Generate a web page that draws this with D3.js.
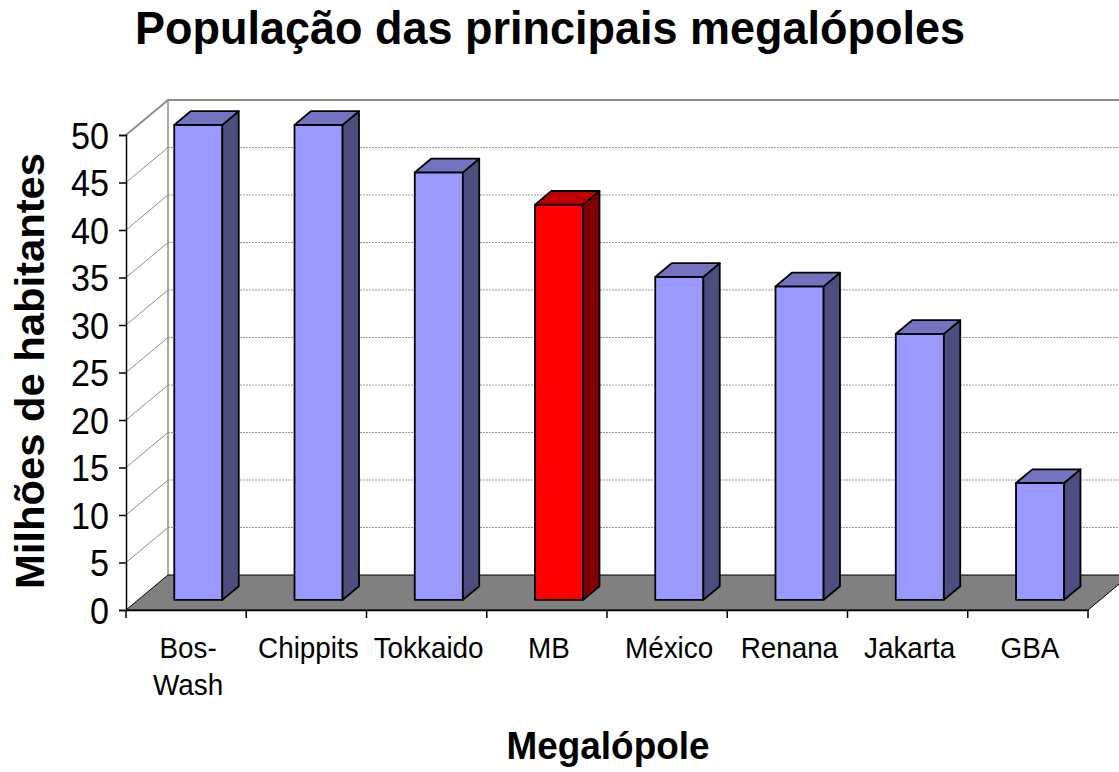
<!DOCTYPE html>
<html>
<head>
<meta charset="utf-8">
<script src="https://cdn.jsdelivr.net/npm/d3@7"></script>
<style>
  body { margin: 0; background: #fff; }
  svg { display: block; font-family: "Liberation Sans", Arial, sans-serif; }
</style>
</head>
<body>
<svg id="chart" width="1119" height="772"></svg>
<script>
var categories = ["Bos-\nWash", "Chippits", "Tokkaido", "MB", "México", "Renana", "Jakarta", "GBA"];
var populacao = [50, 50, 45, 41.6, 34, 33, 28, 12.3];
var destaque = ["MB"];
var yTicks = [0, 5, 10, 15, 20, 25, 30, 35, 40, 45, 50];

var chartTitle = "População das principais megalópoles";
var yTitle = "Milhões de habitantes";
var xTitle = "Megalópole";

var depthX = 42, depthY = -35;     // full depth of the 3D box
var barZ0 = 0.29, barZ1 = 0.68;    // bar position inside the depth
var barFrac = 0.4;

var svg = d3.select("#chart");

var x = d3.scaleBand()
    .domain(categories)
    .range([126, 1088]);

var y = d3.scaleLinear()
    .domain([0, 50])
    .range([610, 135]);

// project point (px on front x, value, depth 0..1)
function P(px, v, z) {
    return [px + z * depthX, y(v) + z * depthY];
}
function poly(pts) {
    return pts.map(function (p) { return p[0] + "," + p[1]; }).join(" ");
}

var x0 = x.range()[0], x1 = x.range()[1];

// ---- walls and floor ----
svg.append("g").selectAll("line.lw")
    .data(yTicks.slice(1, -1))
    .enter().append("line")
    .attr("x1", x0).attr("y1", function (d) { return y(d); })
    .attr("x2", x0 + depthX).attr("y2", function (d) { return y(d) + depthY; })
    .attr("stroke", "#8c8c8c").attr("stroke-width", 1);

// back wall gridlines
svg.append("g").selectAll("line.bw")
    .data(yTicks.slice(1, -1))
    .enter().append("line")
    .attr("x1", x0 + depthX).attr("y1", function (d) { return y(d) + depthY; })
    .attr("x2", x1 + depthX).attr("y2", function (d) { return y(d) + depthY; })
    .attr("stroke", "#999").attr("stroke-width", 1)
    .attr("stroke-dasharray", "2,1");

// wall edges
svg.append("polyline")
    .attr("points", poly([P(x0, 50, 0), P(x0, 50, 1), P(x1, 50, 1)]))
    .attr("fill", "none").attr("stroke", "#8c8c8c").attr("stroke-width", 2);
svg.append("line")
    .attr("x1", x0 + depthX).attr("y1", y(50) + depthY)
    .attr("x2", x0 + depthX).attr("y2", y(0) + depthY)
    .attr("stroke", "#8c8c8c").attr("stroke-width", 1.5);

// floor
svg.append("polygon")
    .attr("points", poly([P(x0, 0, 0), P(x1, 0, 0), P(x1, 0, 1), P(x0, 0, 1)]))
    .attr("fill", "#808080")
    .attr("stroke", "#000").attr("stroke-width", 1);

// ---- bars ----
var bw = x.bandwidth() * barFrac;
var bar = svg.append("g").selectAll("g")
    .data(categories)
    .enter().append("g");

function colorsFor(c) {
    if (destaque.indexOf(c) >= 0) return { front: "#ff0000", side: "#800000", top: "#c00000" };
    return { front: "#9999ff", side: "#4d4d80", top: "#7373bf" };
}

bar.each(function (c, i) {
    var g = d3.select(this);
    var v = populacao[i];
    var l = x(c) + (x.bandwidth() - bw) / 2;
    var r = l + bw;
    var col = colorsFor(c);
    var faces = [
        [[l, 0, barZ0], [r, 0, barZ0], [r, v, barZ0], [l, v, barZ0], col.front],
        [[r, 0, barZ0], [r, 0, barZ1], [r, v, barZ1], [r, v, barZ0], col.side],
        [[l, v, barZ0], [r, v, barZ0], [r, v, barZ1], [l, v, barZ1], col.top]
    ];
    faces.forEach(function (f) {
        g.append("polygon")
            .attr("points", poly(f.slice(0, 4).map(function (p) { return P(p[0], p[1], p[2]); })))
            .attr("fill", f[4]).attr("stroke", "#000").attr("stroke-width", 1.8)
            .attr("stroke-linejoin", "round");
    });
});

// ---- axes ----
var yAxis = d3.axisLeft(y).tickValues(yTicks).tickSize(7).tickPadding(10);
var gy = svg.append("g")
    .attr("transform", "translate(" + x0 + ",0)")
    .call(yAxis);
gy.select(".domain").attr("stroke", "#000").attr("stroke-width", 1.5);
gy.selectAll(".tick line").attr("stroke", "#000").attr("stroke-width", 1.5);
gy.selectAll(".tick text")
    .attr("font-size", "37px").attr("fill", "#000")
    .attr("font-family", "Liberation Sans, Arial, sans-serif")
    .attr("dy", "0.36em")
    .attr("textLength", function (d) { return String(d).length * 19; })
    .attr("lengthAdjust", "spacingAndGlyphs");

var xAxis = d3.axisBottom(x).tickSize(0).tickFormat("");
var gx = svg.append("g")
    .attr("transform", "translate(0," + y(0) + ")")
    .call(xAxis);
gx.select(".domain").attr("stroke", "#000").attr("stroke-width", 1.5);

// category separator ticks
svg.append("g").selectAll("line")
    .data(d3.range(categories.length + 1))
    .enter().append("line")
    .attr("x1", function (i) { return x0 + i * x.step(); })
    .attr("x2", function (i) { return x0 + i * x.step(); })
    .attr("y1", y(0)).attr("y2", y(0) + 8)
    .attr("stroke", "#000").attr("stroke-width", 1.5);

// category labels
var lbl = svg.append("g").selectAll("text")
    .data(categories)
    .enter().append("text")
    .attr("x", function (d) { return x(d) + x.bandwidth() / 2 + 2; })
    .attr("y", 658)
    .attr("text-anchor", "middle")
    .attr("font-size", "29px")
    .attr("fill", "#000");
lbl.each(function (d) {
    var t = d3.select(this);
    d.split("\n").forEach(function (s, k) {
        t.append("tspan")
            .attr("x", t.attr("x"))
            .attr("dy", k === 0 ? 0 : 37)
            .text(s);
    });
});
lbl.attr("transform", function (d) {
    var cx = x(d) + x.bandwidth() / 2 + 2;
    return "translate(" + cx + ",658) scale(0.96,1) translate(" + (-cx) + ",-658)";
});

// ---- titles ----
svg.append("text")
    .attr("x", 550).attr("y", 44)
    .attr("text-anchor", "middle")
    .attr("font-size", "47px").attr("font-weight", "bold")
    .attr("textLength", 830).attr("lengthAdjust", "spacingAndGlyphs")
    .text(chartTitle);

svg.append("text")
    .attr("x", 608).attr("y", 759)
    .attr("text-anchor", "middle")
    .attr("font-size", "38px").attr("font-weight", "bold")
    .attr("textLength", 203).attr("lengthAdjust", "spacingAndGlyphs")
    .text(xTitle);

svg.append("text")
    .attr("transform", "translate(44,371) rotate(-90)")
    .attr("text-anchor", "middle")
    .attr("font-size", "40px").attr("font-weight", "bold")
    .attr("textLength", 436).attr("lengthAdjust", "spacingAndGlyphs")
    .text(yTitle);
</script>
</body>
</html>
